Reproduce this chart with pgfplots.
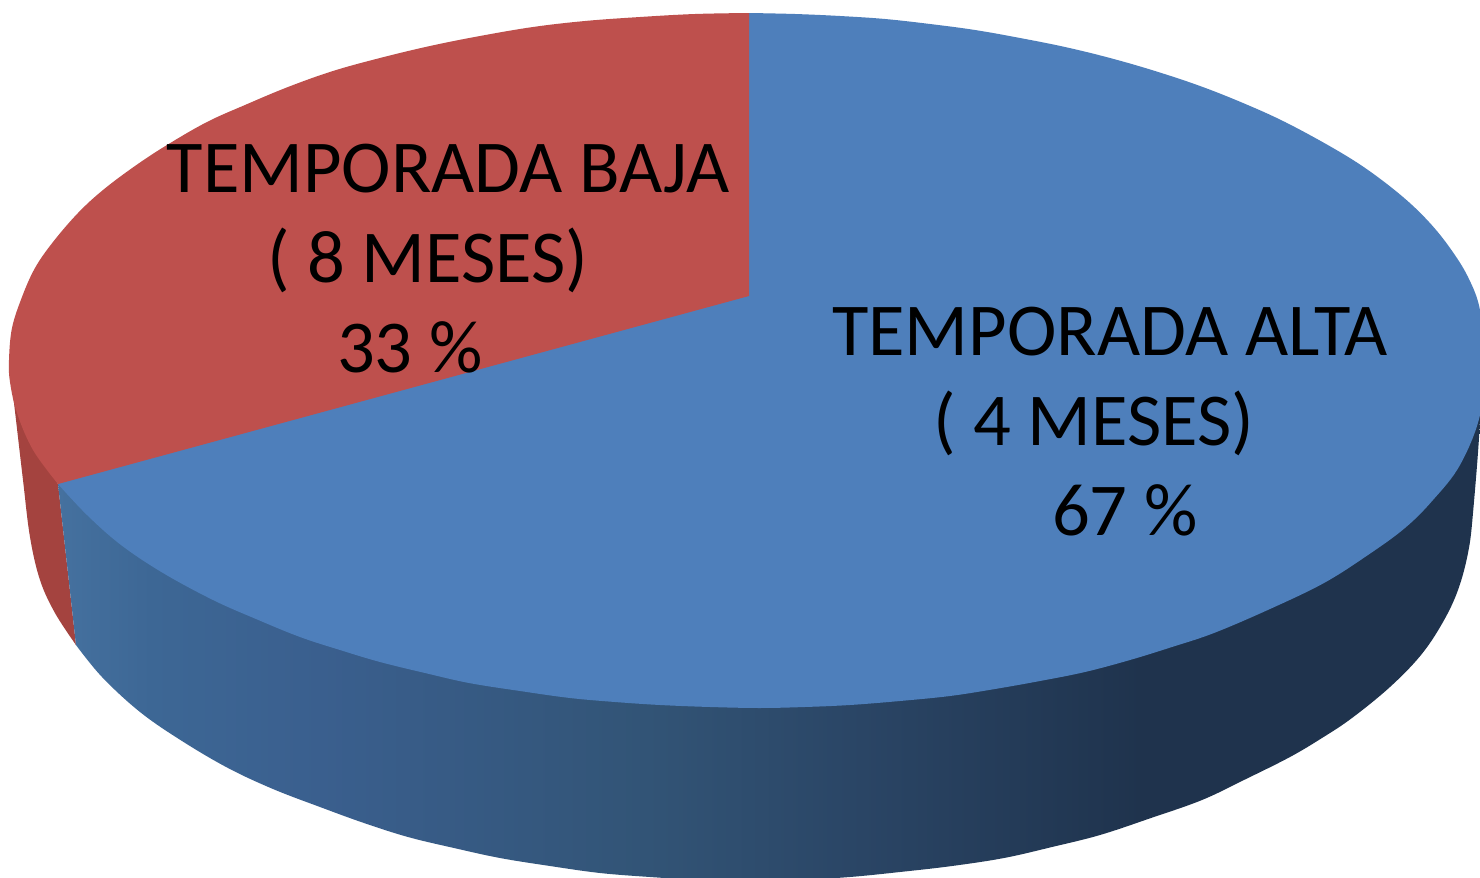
\documentclass[border=0pt]{standalone}
\usepackage{fontspec}
\setmainfont{Carlito}
\usepackage{pgfplots}
\pgfplotsset{compat=1.18}
\definecolor{topblue}{HTML}{4E7FBB}
\definecolor{topred}{HTML}{BE504D}
\definecolor{sidered}{HTML}{A4433F}
\definecolor{sb1}{HTML}{45719F}
\definecolor{sb2}{HTML}{3D6795}
\definecolor{sb3}{HTML}{3A5F8E}
\definecolor{sb4}{HTML}{325476}
\definecolor{sb5}{HTML}{2A4565}
\definecolor{sb6}{HTML}{1F334D}
\pgfdeclarehorizontalshading{sideblue}{100bp}{color(0bp)=(sb1); color(25bp)=(sb1); color(28bp)=(sb2); color(33.5bp)=(sb3); color(44bp)=(sb4); color(51bp)=(sb5); color(60bp)=(sb6); color(100bp)=(sb6)}
\newcommand{\lbl}[1]{\fontsize{37.3}{45}\selectfont #1}
\begin{document}
\begin{tikzpicture}
\begin{axis}[hide axis, scale only axis, width=740pt, height=439pt,
  xmin=0, xmax=1480, ymin=0, ymax=878, y dir=reverse, clip=true,
  every axis plot/.append style={draw=none, line width=0pt, mark=none, tension=0.6}]
% page background, fixes the extent of the picture
\addplot[fill=white] coordinates {(0,0) (1480,0) (1480,878) (0,878)} --cycle;
% side of the low-season slice
\addplot[fill=sidered, smooth] coordinates {(9,360) (16,420) (23,480) (30,537) (40,580) (55,613) (76,645)} --cycle;
\addplot[fill=sidered] coordinates {(76,645) (58,484) (30,440) (9,360) (25,470)} --cycle;
% side of the high-season slice
\addplot[shade, shading=sideblue, smooth] coordinates {(76,645) (102,677) (140,712) (182,741) (228,768) (273,789) (320,807) (364,823) (408,837) (454,848) (500,858) (550,866) (600,873) (650,877) (700,880) (750,881) (800,880) (850,877) (900,872) (952,866) (1004,858) (1052,847) (1100,835) (1151,818) (1202,800) (1246,779) (1290,757) (1322,738) (1352,718) (1390,687) (1421,655) (1443,622) (1458,590) (1468,553) (1473,513) (1480,417) (1476,380) (700,300) (58,484)} --cycle;
% top of the high-season slice (67 %)
\addplot[fill=topblue, smooth] coordinates {(749,13) (795,14) (840,16) (885,19) (930,24) (975,30) (1020,38) (1065,47) (1110,58) (1155,71) (1200,86) (1243,103) (1285,122) (1333,148) (1368,170) (1403,197) (1429,222) (1450,248) (1468,277) (1480,310) (1484,360) (1480,415) (1460,465) (1433,500) (1405,528) (1368,555) (1324,583) (1270,609) (1214,633) (1172,647) (1130,660) (1085,672) (1040,681) (995,689) (950,696) (900,701) (850,705) (805,707) (760,708) (710,707) (660,705) (615,702) (570,698) (520,691) (469,683) (425,673) (380,662) (340,650) (300,637) (256,619) (213,600) (163,573) (121,545) (87,515) (58,484)} --cycle;
% top of the low-season slice (33 %)
\addplot[fill=topred, smooth] coordinates {(58,484) (33,450) (17,413) (10,382) (9,360) (12,328) (22,297) (35,268) (53,242) (78,213) (103,190) (135,166) (167,145) (207,122) (245,105) (288,87) (333,71) (380,58) (430,46) (480,36) (533,27) (585,21) (640,17) (695,14) (749,13)} --cycle;
\addplot[fill=topred] coordinates {(749,13) (749,296) (58,484) (100,300) (400,100)} --cycle;
\node[anchor=base, inner sep=0pt] at (axis cs:448,192) {\lbl{TEMPORADA BAJA}};
\node[anchor=base, inner sep=0pt] at (axis cs:428,282) {\lbl{( 8 MESES)}};
\node[anchor=base, inner sep=0pt] at (axis cs:410,372) {\lbl{33 \%}};
\node[anchor=base, inner sep=0pt] at (axis cs:1110,355) {\lbl{TEMPORADA ALTA}};
\node[anchor=base, inner sep=0pt] at (axis cs:1094,445) {\lbl{( 4 MESES)}};
\node[anchor=base, inner sep=0pt] at (axis cs:1125,535) {\lbl{67 \%}};
\end{axis}
\end{tikzpicture}
\end{document}
